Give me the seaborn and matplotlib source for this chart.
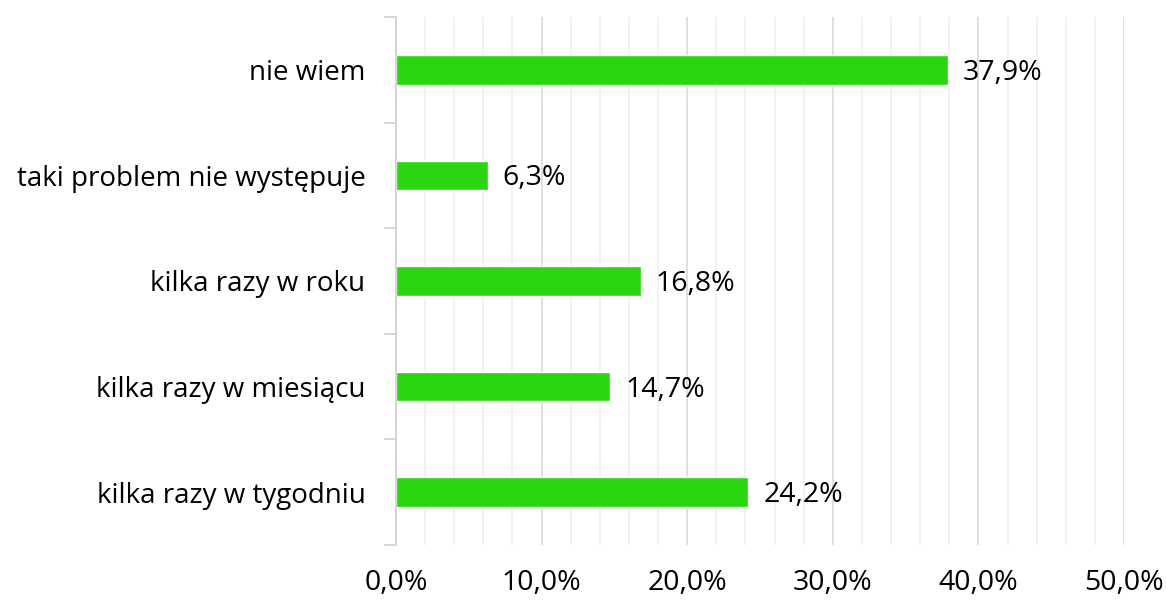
import numpy as np
import pandas as pd
import matplotlib.pyplot as plt
import seaborn as sns
from matplotlib.ticker import MultipleLocator, FixedLocator, FuncFormatter

categories = [
    "nie wiem",
    "taki problem nie występuje",
    "kilka razy w roku",
    "kilka razy w miesiącu",
    "kilka razy w tygodniu",
]
values = [37.9, 6.3, 16.8, 14.7, 24.2]
x_ticks = [0, 10, 20, 30, 40, 50]

BAR_COLOR = "#29d60f"


def pl_pct(v, _=None):
    return f"{v:.1f}%".replace(".", ",")


def main():
    sns.set_style("white")
    plt.rcParams["font.family"] = ["Open Sans", "DejaVu Sans"]

    df = pd.DataFrame({"category": categories, "value": values})

    fig = plt.figure(figsize=(11.66, 6.01), dpi=100)
    ax = fig.add_axes([0.3396, 0.0932, 0.6244, 0.8785])

    sns.barplot(data=df, x="value", y="category", order=categories,
                color=BAR_COLOR, saturation=1, width=0.28, orient="h", ax=ax)

    ax.set_xlim(0, 50)
    ax.set_ylim(len(categories) - 0.5, -0.5)

    # gridlines: major every 10%, minor every 2%
    ax.xaxis.set_major_locator(FixedLocator(x_ticks))
    ax.xaxis.set_minor_locator(MultipleLocator(2))
    ax.xaxis.set_major_formatter(FuncFormatter(pl_pct))
    ax.grid(True, axis="x", which="major", color="#d9d9d9", linewidth=1.2)
    ax.grid(True, axis="x", which="minor", color="#efefef", linewidth=1.2)
    ax.grid(False, axis="y")
    ax.set_axisbelow(True)
    ax.tick_params(axis="x", which="both", length=0, pad=17, labelsize=20.5,
                   labelcolor="black")

    # y: category boundary ticks outward
    ax.yaxis.set_minor_locator(FixedLocator(np.arange(-0.5, len(categories), 1)))
    ax.tick_params(axis="y", which="major", length=0, pad=22, labelsize=20,
                   labelcolor="black")
    ax.tick_params(axis="y", which="minor", length=9, width=1.2,
                   color="#d0d0d0", left=True, direction="out")

    for s in ["top", "right", "bottom"]:
        ax.spines[s].set_visible(False)
    ax.spines["left"].set_color("#d0d0d0")
    ax.spines["left"].set_linewidth(1.2)

    ax.set_xlabel("")
    ax.set_ylabel("")

    for i, v in enumerate(values):
        ax.annotate(pl_pct(v), (v, i), xytext=(15, -3),
                    textcoords="offset pixels",
                    va="center", ha="left", fontsize=20.5, color="black")

    fig.savefig("out.png", dpi=100)
    plt.close(fig)


if __name__ == "__main__":
    main()
